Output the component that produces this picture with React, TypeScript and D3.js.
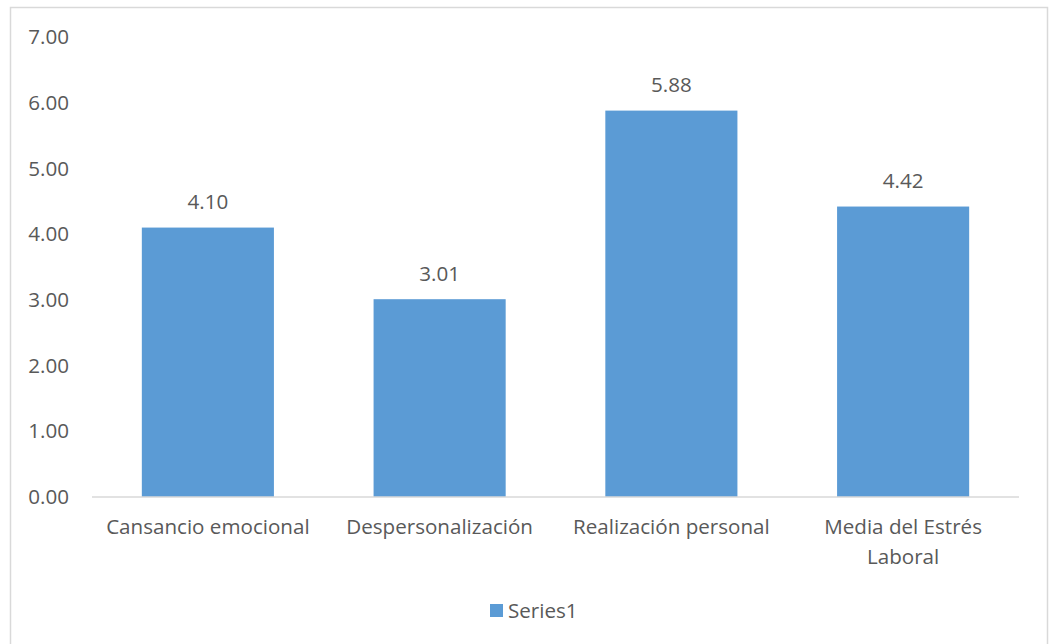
import React from "react";
import * as d3 from "d3";

const categories: string[][] = [
  ["Cansancio emocional"],
  ["Despersonalización"],
  ["Realización personal"],
  ["Media del Estrés", "Laboral"],
];
const values: number[] = [4.1, 3.01, 5.88, 4.42];
const yTicks: number[] = [0, 1, 2, 3, 4, 5, 6, 7];
const seriesName = "Series1";

const W = 1049;
const H = 644;
const FONT = "'Open Sans', Lato, sans-serif";
const TEXT = "#595959";
const BAR = "#5B9BD5";
const GRID = "#D9D9D9";

export default function App() {
  const left = 92;
  const right = 1019;
  const top = 37;
  const bottom = 497;
  const x = d3
    .scaleBand<number>()
    .domain(d3.range(values.length))
    .range([left, right])
    .paddingInner(0.43)
    .paddingOuter(0.215);
  const y = d3.scaleLinear().domain([0, 7]).range([bottom, top]);
  const fs = 20.6;

  return (
    <svg
      width={W}
      height={H}
      style={{ position: "absolute", left: 0, top: 0, background: "#fff" }}
      fontFamily={FONT}
    >
      <rect x={10.5} y={7.5} width={1037} height={H} fill="#fff" stroke={GRID} strokeWidth={1.5} />
      {yTicks.map((t) => (
        <text
          key={t}
          x={69}
          y={y(t)}
          dy="0.35em"
          textAnchor="end"
          fontSize={fs}
          fill={TEXT}
        >
          {t.toFixed(2)}
        </text>
      ))}
      {values.map((v, i) => (
        <g key={i}>
          <rect
            x={x(i)}
            y={y(v)}
            width={x.bandwidth()}
            height={y(0) - y(v)}
            fill={BAR}
          />
          <text
            x={(x(i) as number) + x.bandwidth() / 2}
            y={y(v) - 25.5}
            dy="0.35em"
            textAnchor="middle"
            fontSize={fs}
            fill={TEXT}
          >
            {v.toFixed(2)}
          </text>
        </g>
      ))}
      <line x1={left} x2={right} y1={bottom} y2={bottom} stroke={GRID} strokeWidth={1.5} />
      {categories.map((lines, i) => (
        <text
          key={i}
          x={(x(i) as number) + x.bandwidth() / 2}
          y={527}
          textAnchor="middle"
          fontSize={fs}
          fill={TEXT}
        >
          {lines.map((l, j) => (
            <tspan key={j} x={(x(i) as number) + x.bandwidth() / 2} dy={j === 0 ? "0.35em" : 30}>
              {l}
            </tspan>
          ))}
        </text>
      ))}
      <rect x={490} y={604} width={13} height={13} fill={BAR} />
      <text x={508} y={610.5} dy="0.35em" fontSize={fs} fill={TEXT}>
        {seriesName}
      </text>
    </svg>
  );
}
